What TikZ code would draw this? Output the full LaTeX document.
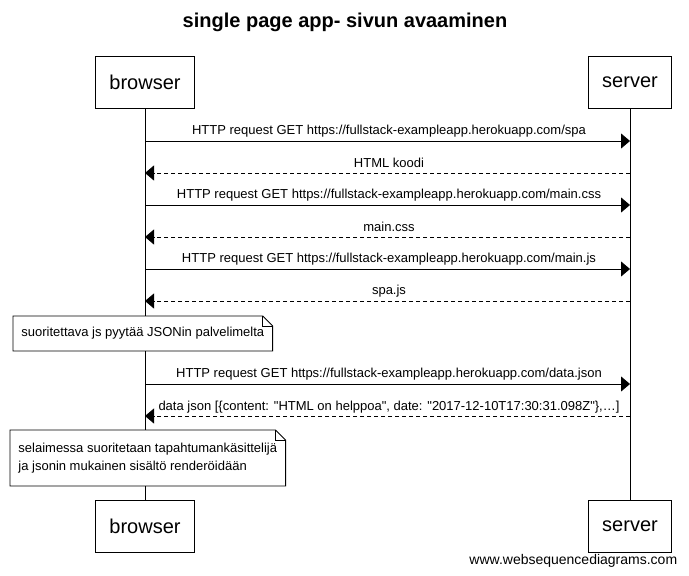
\documentclass[tikz,border=0pt]{standalone}
\usepackage{fontspec}
\setmainfont{Liberation Sans}[Ligatures=TeXOff]
\usetikzlibrary{calc,arrows.meta}

\begin{document}
\begin{tikzpicture}[x=1pt,y=-1pt,line width=0.9pt,
    actor/.style={draw,fill=white,inner xsep=14pt,minimum height=52pt,font=\fontsize{20}{24}\selectfont},
    req/.style={-{Triangle[length=9pt,width=15pt]}},
    resp/.style={req,dash pattern=on 4pt off 3pt},
    lbl/.style={font=\fontsize{13}{15}\selectfont,inner sep=0pt},
    note/.style={fill=white,align=left,inner xsep=8pt,inner ysep=11pt,font=\fontsize{13}{18}\selectfont}]
    \useasboundingbox (0,0) rectangle (689,576);

    \node[font=\bfseries\fontsize{20}{24}\selectfont] (title) at (345,22) {single page app- sivun avaaminen};

    \node[actor] (bt) at (145,82) {browser};
    \node[actor] (st) at (630,82) {server};
    \node[actor] (bb) at (145,526) {browser};
    \node[actor] (sb) at (630,526) {server};
    \draw (bt.south) -- (bb.north);
    \draw (st.south) -- (sb.north);

    \draw[req] (bt.south |- 0,141) -- (st.south |- 0,141);
    \node[lbl] (m1) at (389,131) {HTTP request GET https://fullstack-exampleapp.herokuapp.com/spa};
    \draw[resp] (st.south |- 0,173) -- (bt.south |- 0,173);
    \node[lbl] (m2) at (389,163) {HTML koodi};
    \draw[req] (bt.south |- 0,205) -- (st.south |- 0,205);
    \node[lbl] (m3) at (389,195) {HTTP request GET https://fullstack-exampleapp.herokuapp.com/main.css};
    \draw[resp] (st.south |- 0,237) -- (bt.south |- 0,237);
    \node[lbl] (m4) at (389,227) {main.css};
    \draw[req] (bt.south |- 0,269) -- (st.south |- 0,269);
    \node[lbl] (m5) at (389,259) {HTTP request GET https://fullstack-exampleapp.herokuapp.com/main.js};
    \draw[resp] (st.south |- 0,301) -- (bt.south |- 0,301);
    \node[lbl] (m6) at (389,291) {spa.js};

    \node[note,anchor=north west] (n1) at (13,316) {suoritettava js pyytää JSONin palvelimelta};
    \draw (n1.north west) -- ($(n1.north east)+(-10,0)$) -- ($(n1.north east)+(0,10)$) -- (n1.south east) -- (n1.south west) -- cycle;
    \draw ($(n1.north east)+(-10,0)$) -- ($(n1.north east)+(-10,10)$) -- ($(n1.north east)+(0,10)$);

    \draw[req] (bt.south |- 0,384) -- (st.south |- 0,384);
    \node[lbl] (m7) at (389,374) {HTTP request GET https://fullstack-exampleapp.herokuapp.com/data.json};
    \draw[resp] (st.south |- 0,416) -- (bt.south |- 0,416);
    \node[lbl] (m8) at (389,407) {data json [\{content: "HTML on helppoa", date: "2017-12-10T17:30:31.098Z"\},\dots]};

    \node[note,anchor=north west,inner ysep=12.5pt] (n2) at (10,430) {selaimessa suoritetaan tapahtumankäsittelijä\\ja jsonin mukainen sisältö renderöidään};
    \draw (n2.north west) -- ($(n2.north east)+(-10,0)$) -- ($(n2.north east)+(0,10)$) -- (n2.south east) -- (n2.south west) -- cycle;
    \draw ($(n2.north east)+(-10,0)$) -- ($(n2.north east)+(-10,10)$) -- ($(n2.north east)+(0,10)$);

    \node[font=\fontsize{14}{16}\selectfont,anchor=east] (wm) at (681,561) {www.websequencediagrams.com};
\end{tikzpicture}
\end{document}
